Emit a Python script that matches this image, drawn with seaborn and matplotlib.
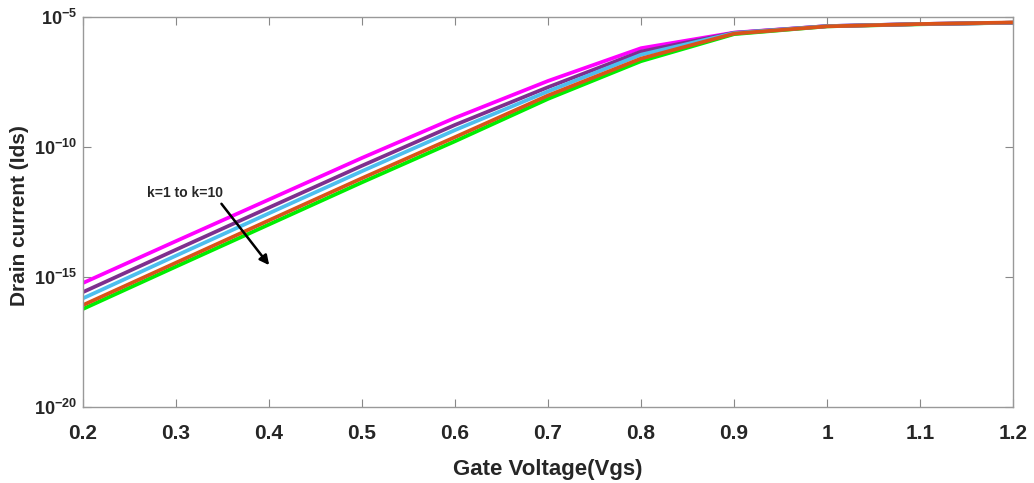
import numpy as np
import pandas as pd
import matplotlib
matplotlib.use("Agg")
import matplotlib.pyplot as plt
import seaborn as sns

# Gate voltage sweep (V)
vgs = [0.2, 0.3, 0.4, 0.5, 0.6, 0.7, 0.8, 0.9, 1.0, 1.1, 1.2]

# log10 of drain current for each curve
log_ids_magenta = [-15.23, -13.62, -12.02, -10.42, -8.88, -7.46, -6.20, -5.60, -5.35, -5.27, -5.22]
log_ids_purple = [-15.58, -13.95, -12.33, -10.72, -9.15, -7.70, -6.33, -5.61, -5.35, -5.27, -5.22]
log_ids_blue = [-15.82, -14.18, -12.55, -10.93, -9.35, -7.86, -6.45, -5.62, -5.35, -5.27, -5.22]
log_ids_orange = [-16.08, -14.45, -12.82, -11.20, -9.62, -8.02, -6.60, -5.64, -5.36, -5.27, -5.21]
log_ids_green = [-16.23, -14.60, -12.98, -11.36, -9.78, -8.15, -6.70, -5.66, -5.36, -5.28, -5.22]

series = {
    "green": log_ids_green,
    "magenta": log_ids_magenta,
    "purple": log_ids_purple,
    "blue": log_ids_blue,
    "orange": log_ids_orange,
}
palette = {
    "green": "#00EE00",
    "magenta": "#FF00FF",
    "purple": "#7E2F8E",
    "blue": "#4DBEEE",
    "orange": "#D95319",
}

rows = []
for name, vals in series.items():
    for v, lv in zip(vgs, vals):
        rows.append({"Vgs": v, "Ids": 10.0 ** lv, "curve": name})
df = pd.DataFrame(rows)

sns.set_style("ticks")
plt.rcParams["font.family"] = ["Liberation Sans", "DejaVu Sans"]
plt.rcParams["mathtext.fontset"] = "custom"
plt.rcParams["mathtext.rm"] = "Liberation Sans:bold"
plt.rcParams["mathtext.bf"] = "Liberation Sans:bold"

fig = plt.figure(figsize=(10.34, 4.83), dpi=100)
ax = fig.add_axes([0.0803, 0.1574, 0.8994, 0.8074])

sns.lineplot(data=df, x="Vgs", y="Ids", hue="curve", hue_order=list(series.keys()),
             palette=palette, linewidth=2.7, legend=False, ax=ax)

ax.set_yscale("log")
ax.set_xlim(0.2, 1.2)
ax.set_ylim(1e-20, 1e-5)
xticks = [0.2, 0.3, 0.4, 0.5, 0.6, 0.7, 0.8, 0.9, 1.0, 1.1, 1.2]
xtick_labels = ["0.2", "0.3", "0.4", "0.5", "0.6", "0.7", "0.8", "0.9", "1", "1.1", "1.2"]
ax.set_xticks(xticks)
ax.set_xticklabels(xtick_labels)
ytick_exps = [-20, -15, -10, -5]
ax.set_yticks([10.0 ** e for e in ytick_exps])
ax.set_yticklabels([rf"$\mathbf{{10^{{{e}}}}}$" for e in ytick_exps])
ax.minorticks_off()

for lab in ax.get_xticklabels():
    lab.set_fontweight("bold")
    lab.set_fontsize(15)
for lab in ax.get_yticklabels():
    lab.set_fontsize(13)

ax.tick_params(axis="both", direction="in", length=6, width=0.8, color="#888888",
               top=True, right=True)
ax.tick_params(axis="x", pad=12)
ax.tick_params(axis="y", pad=4)
for sp in ax.spines.values():
    sp.set_visible(True)
    sp.set_color("#999999")
    sp.set_linewidth(1.0)

ax.set_xlabel("Gate Voltage(Vgs)", fontweight="bold", fontsize=16, labelpad=12)
ax.set_ylabel("Drain current (Ids)", fontweight="bold", fontsize=15)
ax.yaxis.set_label_coords(-0.058, 0.49)

# annotation arrow showing increasing k
ax.annotate("", xy=(0.402, 10.0 ** -14.63), xytext=(0.347, 10.0 ** -12.10),
            arrowprops=dict(arrowstyle="-|>", color="black", lw=1.8, mutation_scale=14))
ax.text(0.31, 10.0 ** -11.77, "k=1 to k=10", fontsize=10, fontweight="bold",
        ha="center", va="center")

fig.savefig("out.png", dpi=100)
